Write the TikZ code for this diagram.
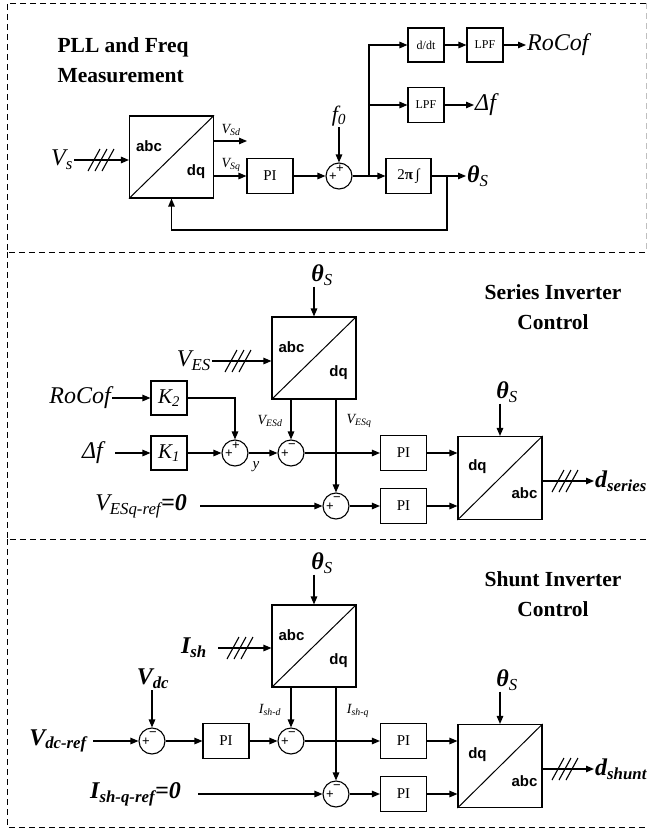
\documentclass[tikz,border=0pt]{standalone}
\usepackage{fontspec}
\setmainfont{Liberation Serif}
\setsansfont{Liberation Sans}
\usetikzlibrary{arrows.meta,calc}
\newcommand\xflab[3]{%
  \draw[line width=1pt] (#1.south west) -- (#1.north east);
  \node[tf] at ([shift={(20,31)}]#1.north west) {#2};
  \node[tf] at ([shift={(-18,-27)}]#1.south east) {#3};}
\newcommand\sgn[2]{%
  \node[sg] at ([shift={(-6,1)}]#1.center) {+};
  \node[sg] at ([shift={(1,-7)}]#1.center) {#2};}
\newcommand\tsl[1]{%
  \foreach \d in {-7,0,7} \draw[line width=1.1pt] ([shift={(\d,0)}]#1) ++(-6,11) -- ++(12,-22);}
\begin{document}
\begin{tikzpicture}[x=1pt,y=-1pt,
 ln/.style={line width=1.2pt},
 arr/.style={ln,-{Triangle[length=8pt,width=6.5pt]}},
 blk/.style={draw,line width=1.1pt,minimum width=46pt,minimum height=35pt,inner sep=0pt,font=\fontsize{15}{18}\selectfont},
 sblk/.style={blk,minimum width=36pt,minimum height=34pt,font=\fontsize{12}{14}\selectfont},
 kblk/.style={blk,minimum width=36pt,minimum height=34pt,font=\fontsize{21}{24}\selectfont\itshape},
 xf/.style={draw,line width=1.1pt,minimum width=84pt,minimum height=82pt,inner sep=0pt},
 sumc/.style={draw,circle,line width=1.1pt,minimum size=26pt,inner sep=0pt},
 big/.style={font=\fontsize{24}{28}\selectfont\itshape,inner sep=1pt},
 small/.style={font=\fontsize{14}{16}\selectfont\itshape,inner sep=1pt},
 ttl/.style={font=\fontsize{21.5}{30}\selectfont\bfseries,align=center},
 sg/.style={font=\fontsize{13}{13}\selectfont\sffamily,inner sep=0pt},
 tf/.style={font=\fontsize{15}{18}\selectfont\sffamily\bfseries,inner sep=0pt},
 panelframe/.style={line width=0.8pt,dash pattern=on 6pt off 4pt},
]
\useasboundingbox (0,0) rectangle (648,830);
% frames
\draw[panelframe] (646,3) -- (7,3) -- (7,252) -- (648,252);
\draw[panelframe,black!25] (646,3) -- (646,252);
\draw[panelframe] (7,252) -- (7,539) -- (648,539);
\draw[panelframe] (7,539) -- (7,827) -- (648,827);

% ===== top panel
\node[ttl,align=left,anchor=west] (t1) at (54,60) {PLL and Freq\\Measurement};
\node[xf] (xa) at (171.5,157) {};
\xflab{xa}{abc}{dq}
\node[big,anchor=east] (vs) at (74,160) {V\textsubscript{s}};
\draw[arr] (vs.east) -- (vs.east -| xa.west);
\coordinate (sl1) at (101,160); \tsl{sl1}
\coordinate (vsd) at (247,141);
\draw[arr] (vsd -| xa.east) -- (vsd);
\node[small] (lvsd) at (231,130) {V\textsubscript{Sd}};
\node[blk] (pia) at (270,176) {PI};
\draw[arr] (pia.west -| xa.east) -- (pia.west);
\node[small] (lvsq) at (231,165) {V\textsubscript{Sq}};
\node[sumc] (s0) at (339,176) {};
\node[sg] at ([shift={(-6,1)}]s0.center) {+};
\node[sg] at ([shift={(1,-7)}]s0.center) {+};
\draw[arr] (pia) -- (s0);
\node[big,font=\fontsize{22}{26}\selectfont\itshape] (f0) at (339,116) {f\textsubscript{0}};
\draw[arr] (f0.south -| s0.north) -- (s0.north);
\node[blk,minimum width=45pt] (ig) at (408.5,176) {2\textbf{π}\,∫};
\draw[arr] (s0) -- (ig);
\coordinate (j1) at (369,176);
\node[sblk] (dd) at (426,45) {d/dt};
\node[sblk] (lp1) at (485,45) {LPF};
\node[big,anchor=west] (rocof) at (526,45) {RoCof};
\draw[arr] (j1) |- (dd);
\draw[arr] (dd) -- (lp1);
\draw[arr] (lp1) -- (rocof);
\node[sblk,minimum height=35pt] (lp2) at (426,105) {LPF};
\node[big,anchor=west] (df) at (474,105) {Δf};
\draw[arr] (j1) |- (lp2);
\draw[arr] (lp2) -- (df);
\node[big,anchor=west] (th1) at (466,176) {\textbf{θ}\textsubscript{S}};
\draw[arr] (ig) -- (th1);
\coordinate (j2) at (447,176);
\coordinate (fb) at (447,230);
\draw[arr] (j2) -- (fb) -| (xa.south);

% ===== middle panel
\node[ttl] (t2) at (553,307) {Series Inverter\\Control};
\node[big] (th2) at (322,275) {\textbf{θ}\textsubscript{S}};
\node[xf] (xb) at (314,358) {};
\xflab{xb}{abc}{dq}
\draw[arr] (xb.north |- th2.south) -- (xb.north);
\node[big,anchor=east] (ves) at (212,361) {V\textsubscript{ES}};
\draw[arr] (ves.east) -- (ves.east -| xb.west);
\coordinate (sl2) at (238,361); \tsl{sl2}
\node[big,anchor=east] (rc2) at (112,398) {RoCof};
\node[kblk] (k2) at (169,398) {K\textsubscript{2}};
\draw[arr] (rc2.east) -- (k2.west);
\node[big,anchor=east] (df2) at (104,453) {Δf};
\node[kblk] (k1) at (169,453) {K\textsubscript{1}};
\draw[arr] ([xshift=11]df2.east) -- (k1.west);
\node[sumc] (s1) at (235,453) {};
\sgn{s1}{+}
\node[sumc] (s2) at (291,453) {};
\sgn{s2}{−}
\draw[arr] (k2.east) -| (s1.north);
\draw[arr] (k1) -- (s1);
\draw[arr] (s1) -- (s2);
\node[small,font=\fontsize{15}{16}\selectfont\itshape] (ly) at (256,467) {y};
\draw[arr] (xb.south -| s2) -- (s2.north);
\node[small] (lvesd) at (270,421) {V\textsubscript{ESd}};
\node[blk] (pb1) at (403.5,453) {PI};
\draw[arr] (s2) -- (pb1);
\node[sumc] (s3) at (336,506) {};
\sgn{s3}{−}
\draw[arr] (xb.south -| s3) -- (s3.north);
\node[small] (lvesq) at (359,421) {V\textsubscript{ESq}};
\node[big,anchor=east] (vref) at (188,506) {V\textsubscript{ESq-ref}\textbf{=0}};
\draw[arr] ([xshift=12]vref.east) -- (s3.west);
\node[blk] (pb2) at (403.5,506) {PI};
\draw[arr] (s3) -- (pb2);
\node[xf,minimum height=83pt] (xc) at (500,478) {};
\xflab{xc}{dq}{abc}
\draw[arr] (pb1.east) -- (pb1.east -| xc.west);
\draw[arr] (pb2.east) -- (pb2.east -| xc.west);
\node[big] (th3) at (507,392) {\textbf{θ}\textsubscript{S}};
\draw[arr] (xc.north |- th3.south) -- (xc.north);
\node[big,anchor=west] (dser) at (594,481) {\textbf{d\textsubscript{series}}};
\draw[arr] (xc.east |- dser.west) -- (dser.west);
\coordinate (sl3) at (565,481); \tsl{sl3}

% ===== bottom panel
\node[ttl] (t3) at (553,594) {Shunt Inverter\\Control};
\node[big] (th4) at (322,563) {\textbf{θ}\textsubscript{S}};
\node[xf] (xd) at (314,646) {};
\xflab{xd}{abc}{dq}
\draw[arr] (xd.north |- th4.south) -- (xd.north);
\node[big,anchor=east] (ish) at (208,648) {\textbf{I\textsubscript{sh}}};
\draw[arr] ([xshift=10]ish.east) -- (ish.east -| xd.west);
\coordinate (sl4) at (240,648); \tsl{sl4}
\node[sumc] (s4) at (152,741) {};
\sgn{s4}{−}
\node[big] (vdc) at (153,679) {\textbf{V\textsubscript{dc}}};
\draw[arr] (s4.north |- vdc.south) -- (s4.north);
\node[big,anchor=east] (vdcr) at (88,741) {\textbf{V\textsubscript{dc-ref}}};
\draw[arr] ([xshift=5]vdcr.east) -- (s4.west);
\node[blk] (pc1) at (226,741) {PI};
\draw[arr] (s4) -- (pc1);
\node[sumc] (s5) at (291,741) {};
\sgn{s5}{−}
\draw[arr] (pc1) -- (s5);
\draw[arr] (xd.south -| s5) -- (s5.north);
\node[small] (lishd) at (270,710) {I\textsubscript{sh-d}};
\node[blk] (pc2) at (403.5,741) {PI};
\draw[arr] (s5) -- (pc2);
\node[sumc] (s6) at (336,794) {};
\sgn{s6}{−}
\draw[arr] (xd.south -| s6) -- (s6.north);
\node[small] (lishq) at (358,711) {I\textsubscript{sh-q}};
\node[big,anchor=east] (iref) at (182,794) {\textbf{I\textsubscript{sh-q-ref}=0}};
\draw[arr] ([xshift=16]iref.east) -- (s6.west);
\node[blk] (pc3) at (403.5,794) {PI};
\draw[arr] (s6) -- (pc3);
\node[xf,minimum height=83pt] (xe) at (500,766) {};
\xflab{xe}{dq}{abc}
\draw[arr] (pc2.east) -- (pc2.east -| xe.west);
\draw[arr] (pc3.east) -- (pc3.east -| xe.west);
\node[big] (th5) at (507,680) {\textbf{θ}\textsubscript{S}};
\draw[arr] (xe.north |- th5.south) -- (xe.north);
\node[big,anchor=west] (dsh) at (594,769) {\textbf{d\textsubscript{shunt}}};
\draw[arr] (xe.east |- dsh.west) -- (dsh.west);
\coordinate (sl5) at (565,769); \tsl{sl5}
\end{tikzpicture}
\end{document}
